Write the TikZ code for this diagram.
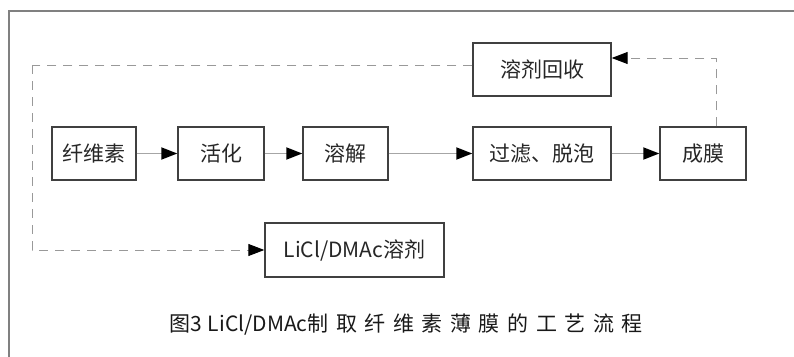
\documentclass[tikz,border=0pt]{standalone}
\usepackage{fontspec}
\newfontfamily\cjk{Noto Sans CJK SC}
\newfontfamily\capcjk[LetterSpace=36]{Noto Sans CJK SC}
\usetikzlibrary{arrows.meta}
\begin{document}
\begin{tikzpicture}[x=1pt,y=-1pt,
  box/.style={draw=black!75, line width=1.4pt, minimum height=53pt, inner sep=0pt,
    font=\cjk\fontsize{21}{21}\selectfont, text=black!85},
  flow/.style={draw=black!35, line width=1.8pt, -{Triangle[length=16pt,width=12pt,color=black]}},
  ret/.style={draw=black!40, line width=1pt, dash pattern=on 9pt off 7pt},
  retarrow/.style={ret, -{Triangle[length=16pt,width=12pt,color=black]}}]
\useasboundingbox (0,0) rectangle (794,356);
\draw[black!50, line width=2pt] (9,360) -- (9,11) -- (800,11);
\node[box, minimum width=84pt] (cel) at (94,153.5) {纤维素};
\node[box, minimum width=86pt] (act) at (221,153.5) {活化};
\node[box, minimum width=85pt] (dis) at (345.5,153.5) {溶解};
\node[box, minimum width=138pt] (fil) at (542,153.5) {过滤、脱泡};
\node[box, minimum width=86pt] (film) at (703,153.5) {成膜};
\node[box, minimum width=138pt] (rec) at (542,69.5) {溶剂回收};
\node[box, minimum width=179pt, minimum height=54pt] (sol) at (354.5,250) {LiCl/DMAc溶剂};
\draw[flow] (cel) -- (act);
\draw[flow] (act) -- (dis);
\draw[flow] (dis) -- (fil);
\draw[flow] (fil) -- (film);
\coordinate (tl) at (32,65);
\draw[ret] ([yshift=4.5pt]rec.west) -- (tl);
\draw[retarrow] (tl) |- (sol.west);
\draw[retarrow] ([xshift=13pt]film.north) |- ([yshift=11.5pt]rec.east);
\node[font=\cjk\fontsize{21}{21}\selectfont, text=black!90, inner sep=0pt] (cap) at (406,325) {{\capcjk 图}3\hspace{6pt}LiCl/DMAc{\capcjk 制取纤维素薄膜的工艺流程}};
\end{tikzpicture}
\end{document}
